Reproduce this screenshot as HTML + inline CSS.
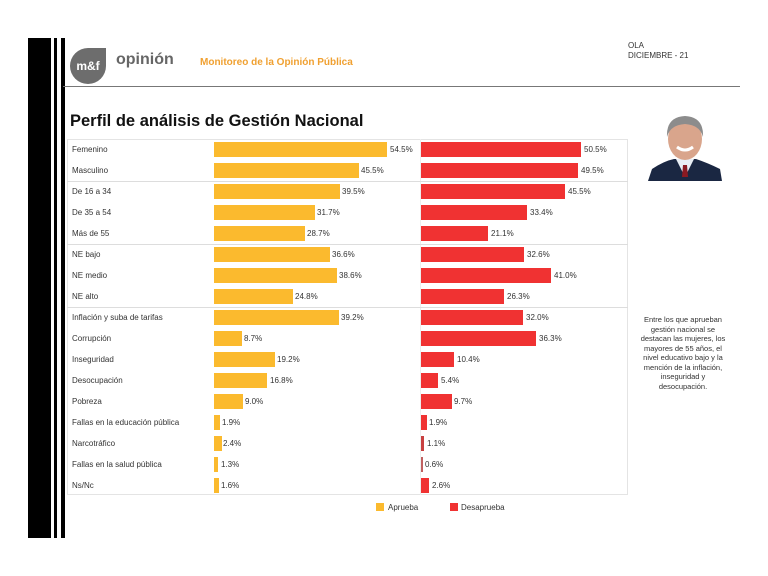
<!DOCTYPE html>
<html><head><meta charset="utf-8"><style>
*{margin:0;padding:0;box-sizing:border-box}
body{width:768px;height:576px;background:#fff;position:relative;overflow:hidden;font-family:"Liberation Sans",sans-serif;color:#333}
.a{position:absolute}
.lab{position:absolute;left:72px;font-size:8px;color:#333;line-height:15px;white-space:nowrap}
.y{position:absolute;left:214px;height:15px;background:#FBBA2E}
.r{position:absolute;left:421px;height:15px;background:#F03232}
.v{position:absolute;font-size:8px;line-height:15px;color:#333;white-space:nowrap}
.sep{position:absolute;left:67px;width:561px;height:1px;background:#ddd}
</style></head><body>
<div class="a" style="left:28px;top:38px;width:23px;height:500px;background:#000"></div>
<div class="a" style="left:54px;top:38px;width:3px;height:500px;background:#000"></div>
<div class="a" style="left:61px;top:38px;width:4px;height:500px;background:#000"></div>

<div class="a" style="left:70px;top:48px;width:36px;height:36px;background:#6d6d6d;border-radius:50% 0 50% 50%;color:#fff;font-weight:bold;font-size:12px;line-height:36px;text-align:center">m&amp;f</div>
<div class="a" style="left:116px;top:51px;font-size:16px;font-weight:bold;color:#666">opinión</div>
<div class="a" style="left:200px;top:57px;font-size:10px;font-weight:bold;color:#F0A030">Monitoreo de la Opinión Pública</div>
<div class="a" style="left:628px;top:41px;font-size:8px;line-height:10px;color:#333">OLA<br>DICIEMBRE - 21</div>
<div class="a" style="left:63px;top:86px;width:677px;height:1px;background:#777"></div>
<div class="a" style="left:70px;top:112px;font-size:16.5px;font-weight:bold;color:#111">Perfil de análisis de Gestión Nacional</div>

<div class="a" style="left:67px;top:139px;width:561px;height:356px;border:1px solid #e4e4e4"></div>
<div class="a" style="left:420px;top:139px;width:1px;height:356px;background:#eee"></div>
<div class="sep" style="top:181px"></div>
<div class="sep" style="top:244px"></div>
<div class="sep" style="top:307px"></div>

<div class="lab" style="top:142px">Femenino</div><div class="y" style="top:142px;width:173px"></div><div class="v" style="top:142px;left:390px">54.5%</div><div class="r" style="top:142px;width:160px"></div><div class="v" style="top:142px;left:584px">50.5%</div>
<div class="lab" style="top:163px">Masculino</div><div class="y" style="top:163px;width:145px"></div><div class="v" style="top:163px;left:361px">45.5%</div><div class="r" style="top:163px;width:157px"></div><div class="v" style="top:163px;left:581px">49.5%</div>
<div class="lab" style="top:184px">De 16 a 34</div><div class="y" style="top:184px;width:126px"></div><div class="v" style="top:184px;left:342px">39.5%</div><div class="r" style="top:184px;width:144px"></div><div class="v" style="top:184px;left:568px">45.5%</div>
<div class="lab" style="top:205px">De 35 a 54</div><div class="y" style="top:205px;width:101px"></div><div class="v" style="top:205px;left:317px">31.7%</div><div class="r" style="top:205px;width:106px"></div><div class="v" style="top:205px;left:530px">33.4%</div>
<div class="lab" style="top:226px">Más de 55</div><div class="y" style="top:226px;width:91px"></div><div class="v" style="top:226px;left:307px">28.7%</div><div class="r" style="top:226px;width:67px"></div><div class="v" style="top:226px;left:491px">21.1%</div>
<div class="lab" style="top:247px">NE bajo</div><div class="y" style="top:247px;width:116px"></div><div class="v" style="top:247px;left:332px">36.6%</div><div class="r" style="top:247px;width:103px"></div><div class="v" style="top:247px;left:527px">32.6%</div>
<div class="lab" style="top:268px">NE medio</div><div class="y" style="top:268px;width:123px"></div><div class="v" style="top:268px;left:339px">38.6%</div><div class="r" style="top:268px;width:130px"></div><div class="v" style="top:268px;left:554px">41.0%</div>
<div class="lab" style="top:289px">NE alto</div><div class="y" style="top:289px;width:79px"></div><div class="v" style="top:289px;left:295px">24.8%</div><div class="r" style="top:289px;width:83px"></div><div class="v" style="top:289px;left:507px">26.3%</div>
<div class="lab" style="top:310px">Inflación y suba de tarifas</div><div class="y" style="top:310px;width:125px"></div><div class="v" style="top:310px;left:341px">39.2%</div><div class="r" style="top:310px;width:102px"></div><div class="v" style="top:310px;left:526px">32.0%</div>
<div class="lab" style="top:331px">Corrupción</div><div class="y" style="top:331px;width:28px"></div><div class="v" style="top:331px;left:244px">8.7%</div><div class="r" style="top:331px;width:115px"></div><div class="v" style="top:331px;left:539px">36.3%</div>
<div class="lab" style="top:352px">Inseguridad</div><div class="y" style="top:352px;width:61px"></div><div class="v" style="top:352px;left:277px">19.2%</div><div class="r" style="top:352px;width:33px"></div><div class="v" style="top:352px;left:457px">10.4%</div>
<div class="lab" style="top:373px">Desocupación</div><div class="y" style="top:373px;width:53px"></div><div class="v" style="top:373px;left:270px">16.8%</div><div class="r" style="top:373px;width:17px"></div><div class="v" style="top:373px;left:441px">5.4%</div>
<div class="lab" style="top:394px">Pobreza</div><div class="y" style="top:394px;width:29px"></div><div class="v" style="top:394px;left:245px">9.0%</div><div class="r" style="top:394px;width:31px"></div><div class="v" style="top:394px;left:454px">9.7%</div>
<div class="lab" style="top:415px">Fallas en la educación pública</div><div class="y" style="top:415px;width:6px"></div><div class="v" style="top:415px;left:222px">1.9%</div><div class="r" style="top:415px;width:6px"></div><div class="v" style="top:415px;left:429px">1.9%</div>
<div class="lab" style="top:436px">Narcotráfico</div><div class="y" style="top:436px;width:8px"></div><div class="v" style="top:436px;left:223px">2.4%</div><div class="r" style="top:436px;width:3px;background:#c84040"></div><div class="v" style="top:436px;left:427px">1.1%</div>
<div class="lab" style="top:457px">Fallas en la salud pública</div><div class="y" style="top:457px;width:4px"></div><div class="v" style="top:457px;left:221px">1.3%</div><div class="r" style="top:457px;width:2px;background:#c06060"></div><div class="v" style="top:457px;left:425px">0.6%</div>
<div class="lab" style="top:478px">Ns/Nc</div><div class="y" style="top:478px;width:5px"></div><div class="v" style="top:478px;left:221px">1.6%</div><div class="r" style="top:478px;width:8px"></div><div class="v" style="top:478px;left:432px">2.6%</div>

<div class="a" style="left:376px;top:503px;width:8px;height:8px;background:#FBBA2E"></div>
<div class="v" style="left:388px;top:500px">Aprueba</div>
<div class="a" style="left:450px;top:503px;width:8px;height:8px;background:#F03232"></div>
<div class="v" style="left:461px;top:500px">Desaprueba</div>

<svg class="a" style="left:648px;top:111px" width="74" height="70" viewBox="0 0 74 70">
<rect width="74" height="70" fill="#fff"/>
<path d="M0 70 L4 58 Q16 50 26 48 L48 48 Q60 52 72 58 L74 70 Z" fill="#1a2742"/>
<path d="M28 48 L37 66 L46 48 Z" fill="#e8eef5"/>
<path d="M35 54 L39 54 L40 66 L34 66 Z" fill="#8a1a22"/>
<ellipse cx="37" cy="28" rx="17" ry="21" fill="#d9a58c"/>
<path d="M19 26 Q18 6 37 5 Q56 6 55 26 Q52 14 37 13 Q22 14 19 26Z" fill="#8c8c8c"/>
<path d="M29 36 Q37 42 45 36" stroke="#fff" stroke-width="3" fill="none"/>
</svg>

<div class="a" style="left:638px;top:315px;width:90px;text-align:center;font-size:7.5px;line-height:9.5px;color:#333">Entre los que aprueban gestión nacional se destacan las mujeres, los mayores de 55 años, el nivel educativo bajo y la mención de la inflación, inseguridad y desocupación.</div>
</body></html>
